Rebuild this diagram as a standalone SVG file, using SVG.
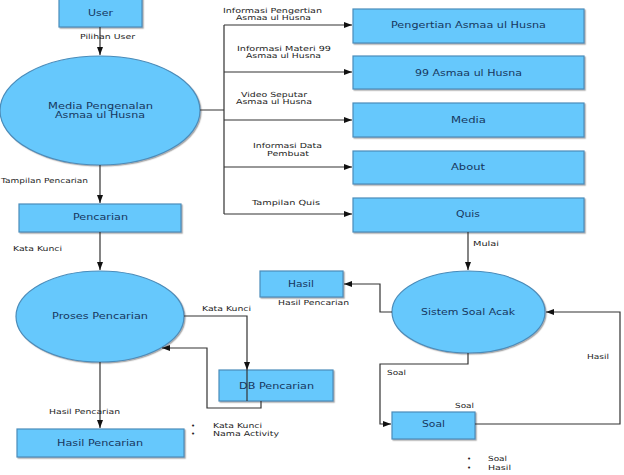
<svg xmlns="http://www.w3.org/2000/svg" width="624" height="475" viewBox="0 0 624 475">
<style>
.n{fill:#66c8fc;stroke:#4a8cba;stroke-width:1.2;filter:url(#sh)}
.t{font-family:"DejaVu Sans",sans-serif;font-size:8.5px;fill:#17375e;text-anchor:middle;dominant-baseline:central}
.l{font-family:"DejaVu Sans",sans-serif;font-size:7px;fill:#222;text-anchor:middle;dominant-baseline:central}
.c{fill:none;stroke:#333;stroke-width:1.2}
.a{marker-end:url(#ar)}
</style>
<defs>
<marker id="ar" viewBox="0 0 8 6" refX="8" refY="3" markerWidth="8" markerHeight="6" markerUnits="userSpaceOnUse" orient="auto">
<path d="M0,0L8,3L0,6z" fill="#111"/>
</marker>
<filter id="sh" x="-10%" y="-10%" width="120%" height="130%">
<feDropShadow dx="1.2" dy="1.2" stdDeviation="0.6" flood-color="#777" flood-opacity="0.6"/>
</filter>
</defs>

<g id="user"><rect class="n" x="59" y="-2" width="83" height="29"/><text class="t" x="100.5" y="13" textLength="25" lengthAdjust="spacingAndGlyphs">User</text></g>
<g id="media-pengenalan"><ellipse class="n" cx="100" cy="110.5" rx="100" ry="54.5"/><text class="t" x="100.5" y="106" textLength="105" lengthAdjust="spacingAndGlyphs">Media Pengenalan</text><text class="t" x="100" y="115" textLength="90" lengthAdjust="spacingAndGlyphs">Asmaa ul Husna</text></g>
<g id="pengertian"><rect class="n" x="353" y="9" width="231" height="34"/><text class="t" x="468.5" y="25" textLength="155" lengthAdjust="spacingAndGlyphs">Pengertian Asmaa ul Husna</text></g>
<g id="asmaa99"><rect class="n" x="353" y="56" width="231" height="33"/><text class="t" x="468.5" y="73" textLength="107" lengthAdjust="spacingAndGlyphs">99 Asmaa ul Husna</text></g>
<g id="media"><rect class="n" x="353" y="103" width="231" height="34"/><text class="t" x="468.5" y="120" textLength="35" lengthAdjust="spacingAndGlyphs">Media</text></g>
<g id="about"><rect class="n" x="353" y="151" width="231" height="33"/><text class="t" x="468" y="167" textLength="34" lengthAdjust="spacingAndGlyphs">About</text></g>
<g id="quis"><rect class="n" x="353" y="198" width="231" height="34"/><text class="t" x="468" y="214" textLength="24" lengthAdjust="spacingAndGlyphs">Quis</text></g>
<g id="pencarian"><rect class="n" x="19" y="204" width="162" height="28"/><text class="t" x="100.5" y="217" textLength="55" lengthAdjust="spacingAndGlyphs">Pencarian</text></g>
<g id="proses-pencarian"><ellipse class="n" cx="100" cy="316.5" rx="84" ry="45.5"/><text class="t" x="100" y="316" textLength="96" lengthAdjust="spacingAndGlyphs">Proses Pencarian</text></g>
<g id="db-pencarian"><rect class="n" x="219" y="370" width="114" height="31"/><text class="t" x="276.5" y="386" textLength="75" lengthAdjust="spacingAndGlyphs">DB Pencarian</text></g>
<g id="hasil-pencarian"><rect class="n" x="17" y="429" width="167" height="28"/><text class="t" x="100" y="443" textLength="86" lengthAdjust="spacingAndGlyphs">Hasil Pencarian</text></g>
<g id="hasil"><rect class="n" x="260" y="271" width="83" height="26"/><text class="t" x="301" y="284" textLength="26" lengthAdjust="spacingAndGlyphs">Hasil</text></g>
<g id="sistem-soal-acak"><ellipse class="n" cx="468.5" cy="312" rx="76.5" ry="41"/><text class="t" x="468" y="312" textLength="94" lengthAdjust="spacingAndGlyphs">Sistem Soal Acak</text></g>
<g id="soal"><rect class="n" x="392" y="412" width="83" height="27"/><text class="t" x="433.5" y="424" textLength="23" lengthAdjust="spacingAndGlyphs">Soal</text></g>

<g id="connectors">
<path class="c a" d="M100,27V55"/>
<path class="c" d="M200,110H224M224,25V214"/>
<path class="c a" d="M224,25H352"/>
<path class="c a" d="M224,72H352"/>
<path class="c a" d="M224,120H352"/>
<path class="c a" d="M224,167H352"/>
<path class="c a" d="M224,214H352"/>
<path class="c a" d="M100,165V203"/>
<path class="c a" d="M100,232V270"/>
<path class="c a" d="M184,316H247V370"/>
<path class="c" d="M247,370V401"/>
<path class="c a" d="M261,401V408H207V348H162"/>
<path class="c a" d="M100,362V428"/>
<path class="c a" d="M468,232V270"/>
<path class="c a" d="M392,312H380V284H344"/>
<path class="c a" d="M468,353V364H380V424H391"/>
<path class="c a" d="M475,424H620V312H546"/>
</g>

<g id="labels">
<text class="l" x="107.5" y="37" textLength="55" lengthAdjust="spacingAndGlyphs">Pilihan User</text>
<text class="l" x="272.5" y="11" textLength="99" lengthAdjust="spacingAndGlyphs">Informasi Pengertian</text>
<text class="l" x="273.5" y="18" textLength="75" lengthAdjust="spacingAndGlyphs">Asmaa ul Husna</text>
<text class="l" x="284" y="49" textLength="94" lengthAdjust="spacingAndGlyphs">Informasi Materi 99</text>
<text class="l" x="283.5" y="56" textLength="75" lengthAdjust="spacingAndGlyphs">Asmaa ul Husna</text>
<text class="l" x="274" y="95" textLength="66" lengthAdjust="spacingAndGlyphs">Video Seputar</text>
<text class="l" x="274" y="102" textLength="76" lengthAdjust="spacingAndGlyphs">Asmaa ul Husna</text>
<text class="l" x="287.5" y="146" textLength="69" lengthAdjust="spacingAndGlyphs">Informasi Data</text>
<text class="l" x="288" y="154" textLength="42" lengthAdjust="spacingAndGlyphs">Pembuat</text>
<text class="l" x="286" y="203" textLength="68" lengthAdjust="spacingAndGlyphs">Tampilan Quis</text>
<text class="l" x="1" y="181" style="text-anchor:start" textLength="87" lengthAdjust="spacingAndGlyphs">Tampilan Pencarian</text>
<text class="l" x="37.5" y="249" textLength="49" lengthAdjust="spacingAndGlyphs">Kata Kunci</text>
<text class="l" x="226.5" y="309" textLength="49" lengthAdjust="spacingAndGlyphs">Kata Kunci</text>
<text class="l" x="84.5" y="412" textLength="71" lengthAdjust="spacingAndGlyphs">Hasil Pencarian</text>
<text class="l" x="193" y="426">•</text>
<text class="l" x="193" y="434">•</text>
<text class="l" x="213" y="426" style="text-anchor:start" textLength="49" lengthAdjust="spacingAndGlyphs">Kata Kunci</text>
<text class="l" x="213" y="434" style="text-anchor:start" textLength="66" lengthAdjust="spacingAndGlyphs">Nama Activity</text>
<text class="l" x="486" y="244" textLength="26" lengthAdjust="spacingAndGlyphs">Mulai</text>
<text class="l" x="313.5" y="303" textLength="71" lengthAdjust="spacingAndGlyphs">Hasil Pencarian</text>
<text class="l" x="396.5" y="373" textLength="19" lengthAdjust="spacingAndGlyphs">Soal</text>
<text class="l" x="464.5" y="406" textLength="19" lengthAdjust="spacingAndGlyphs">Soal</text>
<text class="l" x="598" y="357" textLength="22" lengthAdjust="spacingAndGlyphs">Hasil</text>
<text class="l" x="469" y="459">•</text>
<text class="l" x="469" y="468">•</text>
<text class="l" x="488" y="459" style="text-anchor:start" textLength="19" lengthAdjust="spacingAndGlyphs">Soal</text>
<text class="l" x="488" y="468" style="text-anchor:start" textLength="23" lengthAdjust="spacingAndGlyphs">Hasil</text>
</g>
</svg>
